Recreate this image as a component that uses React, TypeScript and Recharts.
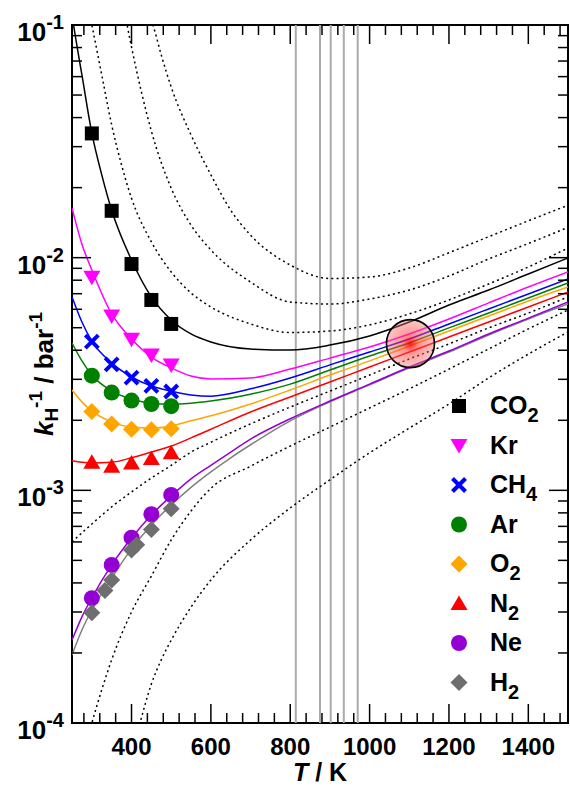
import React from "react";
import {
  ComposedChart,
  Line,
  XAxis,
  YAxis,
  ReferenceLine,
  ReferenceDot,
  ReferenceArea,
} from "recharts";

// ---- fitted curves, T in K, value = 1/kH in bar^-1 ----
const FIT_T = [250, 275, 300, 350, 400, 450, 500, 550, 600, 700, 800, 900, 1000, 1100, 1200, 1300, 1400, 1500];
const CO2_FIT_T = [250, 260, 275, 300, 325, 350, 400, 450, 500, 550, 600, 700, 800, 900, 1000, 1100, 1200, 1300, 1400, 1500];
const LIGHT_FIT_T = [250, 275, 300, 350, 400, 450, 500, 550, 600, 650, 700, 800, 900, 1000, 1100, 1200, 1300, 1400, 1500];

const CO2_FIT = [0.11, 0.0862, 0.061, 0.0343, 0.0227, 0.016, 0.00977, 0.00678, 0.0054, 0.0047, 0.00434, 0.00405, 0.00401, 0.00421, 0.00461, 0.00529, 0.00626, 0.00726, 0.00851, 0.00997];
const KR_FIT = [0.01633, 0.01143, 0.00885, 0.00573, 0.00447, 0.00374, 0.00336, 0.0031, 0.00301, 0.00304, 0.00332, 0.0037, 0.00413, 0.0047, 0.00545, 0.00639, 0.00748, 0.00868];
const CH4_FIT = [0.00678, 0.00529, 0.00438, 0.00353, 0.00307, 0.00281, 0.00267, 0.00257, 0.00254, 0.00273, 0.00304, 0.00346, 0.00393, 0.00447, 0.00519, 0.00602, 0.00698, 0.0081];
const AR_FIT = [0.0043, 0.0036, 0.00313, 0.00267, 0.00247, 0.00237, 0.00235, 0.00237, 0.00242, 0.00259, 0.00286, 0.00329, 0.00378, 0.0043, 0.00499, 0.00578, 0.00671, 0.00778];
const O2_FIT = [0.0027, 0.0024, 0.00219, 0.00197, 0.00187, 0.00185, 0.00189, 0.00199, 0.00209, 0.00235, 0.0027, 0.00313, 0.0036, 0.00417, 0.00484, 0.00561, 0.00651, 0.00748];
const N2_FIT = [0.00134, 0.00132, 0.00131, 0.00132, 0.00138, 0.00146, 0.00155, 0.00168, 0.00183, 0.00217, 0.00252, 0.00292, 0.00339, 0.00393, 0.00456, 0.00529, 0.00614, 0.00712];
const NE_FIT = [0.000227, 0.000286, 0.000345, 0.000478, 0.000624, 0.000784, 0.000946, 0.00112, 0.00128, 0.00146, 0.00166, 0.00203, 0.00242, 0.00286, 0.00339, 0.00397, 0.0047, 0.0055, 0.00645];
const H2_FIT = [0.000196, 0.000251, 0.000306, 0.00042, 0.00056, 0.00071, 0.000865, 0.00103, 0.0012, 0.00138, 0.00157, 0.00199, 0.0024, 0.00284, 0.00336, 0.00393, 0.00465, 0.00545, 0.00632];

// ---- measured points ----
const MEAS_T = [300, 350, 400, 450, 500];
const CO2_MEAS = [0.0342, 0.0159, 0.00939, 0.00658, 0.00519];
const KR_MEAS = [0.00823, 0.00561, 0.00446, 0.00382, 0.00346];
const CH4_MEAS = [0.00436, 0.00348, 0.00305, 0.00281, 0.00266];
const AR_MEAS = [0.00311, 0.00263, 0.00243, 0.00235, 0.0023];
const O2_MEAS = [0.00218, 0.00193, 0.00183, 0.00182, 0.00184];
const N2_MEAS = [0.00132, 0.00127, 0.00131, 0.00137, 0.00145];
const NE_MEAS = [0.000344, 0.000478, 0.000626, 0.000789, 0.000956];
const H2_MEAS_T = [300, 333, 350, 400, 413, 450, 500];
const H2_MEAS = [0.000298, 0.000371, 0.000412, 0.000554, 0.000583, 0.000679, 0.000833];

// ---- dotted reference curves ----
const U1_T = [440, 454, 475, 500, 550, 600, 650, 700, 800, 900, 1000, 1100, 1200, 1300, 1400, 1500];
const U1 = [0.116, 0.1, 0.0743, 0.0541, 0.0337, 0.0227, 0.016, 0.0125, 0.0093, 0.00814, 0.00826, 0.00903, 0.0105, 0.0123, 0.0144, 0.0168];
const U2_T = [385, 390, 400, 425, 450, 500, 550, 600, 700, 800, 900, 1000, 1100, 1200, 1300, 1400, 1500];
const U2 = [0.11, 0.098, 0.0804, 0.0515, 0.035, 0.0199, 0.0138, 0.0108, 0.00786, 0.00645, 0.00632, 0.00664, 0.00726, 0.00834, 0.00987, 0.0115, 0.0135];
const U3_T = [295, 300, 325, 350, 375, 400, 450, 500, 550, 600, 700, 800, 900, 1000, 1100, 1200, 1300, 1400, 1500];
const U3 = [0.11, 0.1, 0.061, 0.0372, 0.025, 0.018, 0.0117, 0.00868, 0.00705, 0.00614, 0.00519, 0.00477, 0.00484, 0.00514, 0.00573, 0.00658, 0.00771, 0.00912, 0.011];
const L1_T = [250, 300, 350, 400, 450, 500, 550, 600, 700, 800, 900, 1000, 1100, 1200, 1300, 1400, 1500];
const L1 = [0.0006, 0.000717, 0.000849, 0.000984, 0.00113, 0.00128, 0.00146, 0.00161, 0.00193, 0.00228, 0.00267, 0.00313, 0.00367, 0.00426, 0.00499, 0.00578, 0.00678];
const L2_T = [290, 300, 325, 350, 400, 450, 500, 550, 600, 700, 800, 900, 1000, 1100, 1200, 1300, 1400, 1500];
const L2 = [8.71e-5, 1.0e-4, 1.39e-4, 1.87e-4, 3.0e-4, 4.28e-4, 6.12e-4, 8.15e-4, 1.02e-3, 1.27e-3, 1.55e-3, 1.87e-3, 2.26e-3, 2.73e-3, 3.32e-3, 4.05e-3, 4.94e-3, 5.96e-3];
const L3_T = [410, 420, 450, 475, 500, 550, 600, 700, 800, 900, 1000, 1100, 1200, 1300, 1400, 1500];
const L3 = [8.45e-5, 9.8e-5, 1.47e-4, 1.87e-4, 2.27e-4, 3.15e-4, 4.12e-4, 6.12e-4, 8.4e-4, 1.11e-3, 1.45e-3, 1.85e-3, 2.35e-3, 3.04e-3, 3.85e-3, 4.79e-3];

// vertical marker temperatures and the highlighted crossing point
const VLINE_T = [814, 875, 902, 935, 970];
const SPOT_T = 1103;
const SPOT_V = 0.00427;

const X_LABELS = [400, 600, 800, 1000, 1200, 1400];

const W = 570;
const H = 787;
const PLOT = { left: 72, right: 568, top: 25, bottom: 723 };
const FONT = '"Liberation Sans", Arial, Helvetica, sans-serif';

type Pt = { T: number; v: number };
const pairs = (ts: number[], vs: number[]): Pt[] => ts.map((T, i) => ({ T, v: vs[i] }));

const X_TICKS = Array.from({ length: 31 }, (_, i) => 280 + 40 * i);
const Y_TICKS: number[] = [];
[-4, -3, -2].forEach((e) => {
  for (let m = 1; m <= 9; m++) Y_TICKS.push(m * Math.pow(10, e));
});
Y_TICKS.push(0.1);

const GASES = [
  { key: "CO2", label: "CO", sub: "2", color: "#000000", line: "#000000", marker: "square", fitT: CO2_FIT_T, fit: CO2_FIT, measT: MEAS_T, meas: CO2_MEAS },
  { key: "Kr", label: "Kr", sub: "", color: "#ff00ff", line: "#ff00ff", marker: "triDown", fitT: FIT_T, fit: KR_FIT, measT: MEAS_T, meas: KR_MEAS },
  { key: "CH4", label: "CH", sub: "4", color: "#0000ff", line: "#0000ff", marker: "cross", fitT: FIT_T, fit: CH4_FIT, measT: MEAS_T, meas: CH4_MEAS },
  { key: "Ar", label: "Ar", sub: "", color: "#008000", line: "#008000", marker: "circle", fitT: FIT_T, fit: AR_FIT, measT: MEAS_T, meas: AR_MEAS },
  { key: "O2", label: "O", sub: "2", color: "#ffa500", line: "#ffa500", marker: "diamond", fitT: FIT_T, fit: O2_FIT, measT: MEAS_T, meas: O2_MEAS },
  { key: "N2", label: "N", sub: "2", color: "#ff0000", line: "#ff0000", marker: "triUp", fitT: FIT_T, fit: N2_FIT, measT: MEAS_T, meas: N2_MEAS },
  { key: "Ne", label: "Ne", sub: "", color: "#9400d3", line: "#9400d3", marker: "circle", fitT: LIGHT_FIT_T, fit: NE_FIT, measT: MEAS_T, meas: NE_MEAS },
  { key: "H2", label: "H", sub: "2", color: "#6e6e6e", line: "#808080", marker: "diamond", fitT: LIGHT_FIT_T, fit: H2_FIT, measT: H2_MEAS_T, meas: H2_MEAS },
];

const DOTTED = [
  { t: U1_T, v: U1 },
  { t: U2_T, v: U2 },
  { t: U3_T, v: U3 },
  { t: L1_T, v: L1 },
  { t: L2_T, v: L2 },
  { t: L3_T, v: L3 },
];

function Marker({ kind, cx, cy, color }: { kind: string; cx: number; cy: number; color: string }) {
  if (kind === "square") return <rect x={cx - 7} y={cy - 7} width={14} height={14} fill={color} />;
  if (kind === "circle") return <circle cx={cx} cy={cy} r={8} fill={color} />;
  if (kind === "diamond")
    return <polygon points={`${cx},${cy - 8.5} ${cx + 8.5},${cy} ${cx},${cy + 8.5} ${cx - 8.5},${cy}`} fill={color} />;
  if (kind === "triUp")
    return <polygon points={`${cx},${cy - 8} ${cx + 8.5},${cy + 6.5} ${cx - 8.5},${cy + 6.5}`} fill={color} />;
  if (kind === "triDown")
    return <polygon points={`${cx - 8.5},${cy - 6.5} ${cx + 8.5},${cy - 6.5} ${cx},${cy + 8}`} fill={color} />;
  return (
    <g stroke={color} strokeWidth={4}>
      <line x1={cx - 6.5} y1={cy - 6.5} x2={cx + 6.5} y2={cy + 6.5} />
      <line x1={cx - 6.5} y1={cy + 6.5} x2={cx + 6.5} y2={cy - 6.5} />
    </g>
  );
}

// inward ticks on bottom and top edges, labels under the major ones
function XTick(props: any) {
  const { x, payload } = props;
  const major = X_LABELS.includes(payload.value);
  const len = major ? 19 : 10;
  return (
    <g>
      <line x1={x} y1={PLOT.bottom} x2={x} y2={PLOT.bottom - len} stroke="#000" strokeWidth={1.5} />
      <line x1={x} y1={PLOT.top} x2={x} y2={PLOT.top + len} stroke="#000" strokeWidth={1.5} />
      {major && (
        <text x={x} y={PLOT.bottom + 32} textAnchor="middle" fontFamily={FONT} fontSize={24} fontWeight="bold" fill="#000">
          {payload.value}
        </text>
      )}
    </g>
  );
}

// inward ticks on left and right edges, 10^n labels at decades
function YTick(props: any) {
  const { y, payload } = props;
  const lg = Math.log10(payload.value);
  const exp = Math.round(lg);
  const major = Math.abs(lg - exp) < 1e-9;
  const len = major ? 19 : 10;
  return (
    <g>
      <line x1={PLOT.left} y1={y} x2={PLOT.left + len} y2={y} stroke="#000" strokeWidth={1.5} />
      <line x1={PLOT.right} y1={y} x2={PLOT.right - len} y2={y} stroke="#000" strokeWidth={1.5} />
      {major && (
        <text x={64} y={y + 16} textAnchor="end" fontFamily={FONT} fontSize={26} fontWeight="bold" fill="#000">
          10
          <tspan fontSize={20} dy={-12}>
            {String(exp)}
          </tspan>
        </text>
      )}
    </g>
  );
}

function Legend() {
  return (
    <svg width={W} height={H} style={{ position: "absolute", left: 0, top: 0, pointerEvents: "none" }}>
      {GASES.map((g, i) => {
        const cy = 406 + i * 39.5;
        return (
          <g key={g.key}>
            <Marker kind={g.marker} cx={459} cy={cy} color={g.color} />
            <text x={490} y={cy + 8} fontFamily={FONT} fontSize={25} fontWeight="bold" fill="#000">
              {g.label}
              {g.sub && (
                <tspan fontSize={20} dy={8}>
                  {g.sub}
                </tspan>
              )}
            </text>
          </g>
        );
      })}
      <text x={320} y={781} textAnchor="middle" fontFamily={FONT} fontSize={25} fontWeight="bold" fill="#000">
        <tspan fontStyle="italic">T</tspan> / K
      </text>
      <text
        transform={`translate(53, ${(PLOT.top + PLOT.bottom) / 2}) rotate(-90)`}
        textAnchor="middle"
        fontFamily={FONT}
        fontSize={26}
        fontWeight="bold"
        fill="#000"
      >
        <tspan fontStyle="italic">k</tspan>
        <tspan fontSize={19} dy={5}>H</tspan>
        <tspan fontSize={19} dy={-16}>-1</tspan>
        <tspan dy={11}> / bar</tspan>
        <tspan fontSize={19} dy={-11}>-1</tspan>
      </text>
    </svg>
  );
}

export default function App() {
  const fitOrder = [...GASES].reverse();
  const markerOrder = GASES.filter((g) => g.key !== "H2").concat(GASES.filter((g) => g.key === "H2"));
  return (
    <div style={{ position: "absolute", left: 0, top: 0, width: W, height: H, background: "#fff" }}>
      <ComposedChart
        width={W}
        height={H}
        margin={{ top: PLOT.top, right: W - PLOT.right, bottom: H - PLOT.bottom - 1, left: PLOT.left - 1 }}
      >
        <defs>
          <radialGradient id="spotFill" cx="50%" cy="50%" r="50%">
            <stop offset="0%" stopColor="#ff0000" stopOpacity={0.9} />
            <stop offset="35%" stopColor="#ff3a3a" stopOpacity={0.55} />
            <stop offset="100%" stopColor="#f07878" stopOpacity={0.42} />
          </radialGradient>
        </defs>
        <XAxis
          dataKey="T"
          type="number"
          domain={[250, 1500]}
          allowDataOverflow
          ticks={X_TICKS}
          interval={0}
          height={1}
          axisLine={false}
          tickLine={false}
          tickSize={0}
          tickMargin={0}
          tick={<XTick />}
        />
        <YAxis
          type="number"
          scale="log"
          domain={[1e-4, 1e-1]}
          allowDataOverflow
          ticks={Y_TICKS}
          interval={0}
          width={1}
          axisLine={false}
          tickLine={false}
          tickSize={0}
          tickMargin={0}
          tick={<YTick />}
        />
        {VLINE_T.map((t) => (
          <ReferenceLine key={t} x={t} stroke="#ababab" strokeWidth={2} />
        ))}
        {DOTTED.map((d, i) => (
          <Line
            key={`dot-${i}`}
            data={pairs(d.t, d.v)}
            dataKey="v"
            type="monotone"
            stroke="#000"
            strokeWidth={1.5}
            strokeDasharray="2 3.2"
            dot={false}
            activeDot={false}
            legendType="none"
            isAnimationActive={false}
          />
        ))}
        {fitOrder.map((g) => (
          <Line
            key={`fit-${g.key}`}
            data={pairs(g.fitT, g.fit)}
            dataKey="v"
            type="monotone"
            stroke={g.line}
            strokeWidth={1.5}
            dot={false}
            activeDot={false}
            legendType="none"
            isAnimationActive={false}
          />
        ))}
        {markerOrder.map((g) => (
          <Line
            key={`meas-${g.key}`}
            data={pairs(g.measT, g.meas)}
            dataKey="v"
            stroke="none"
            dot={(p: any) => <Marker key={`${g.key}-${p.index}`} kind={g.marker} cx={p.cx} cy={p.cy} color={g.color} />}
            activeDot={false}
            legendType="none"
            isAnimationActive={false}
          />
        ))}
        <ReferenceDot x={SPOT_T} y={SPOT_V} r={24} fill="url(#spotFill)" stroke="#000" strokeWidth={1.6} ifOverflow="visible" />
        <ReferenceArea x1={250} x2={1500} y1={1e-4} y2={1e-1} fill="none" stroke="#000" strokeWidth={2} ifOverflow="visible" />
      </ComposedChart>
      <Legend />
    </div>
  );
}
